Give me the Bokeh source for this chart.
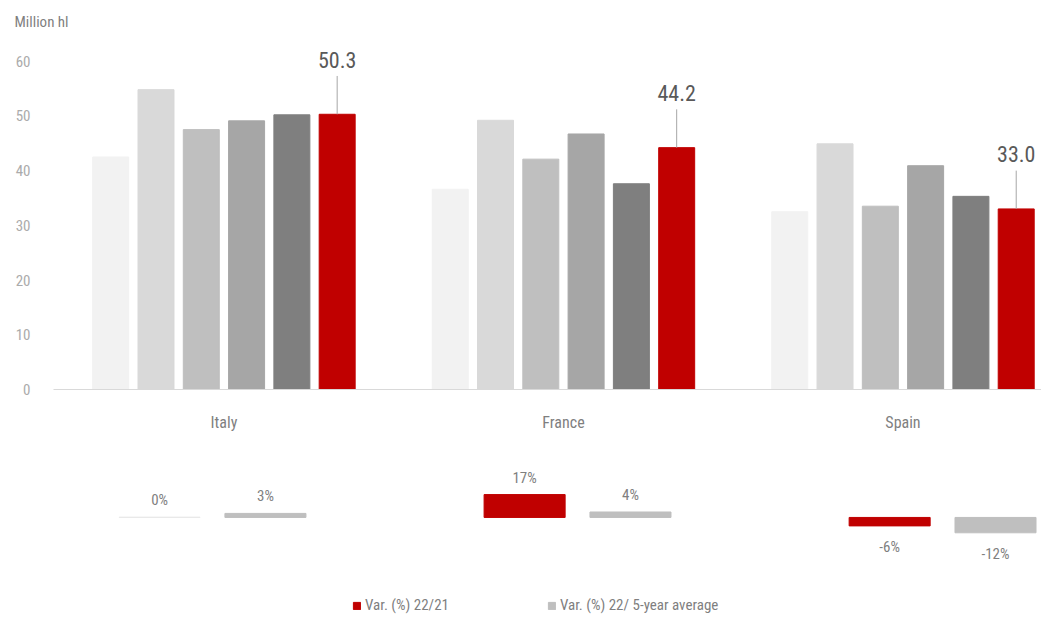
from bokeh.plotting import figure
from bokeh.layouts import column
from bokeh.models import Range1d, FixedTicker, Legend, LegendItem, ColumnDataSource
from bokeh.core.properties import value
from bokeh.embed import file_html
from bokeh.resources import INLINE

FONT = "Roboto Condensed"

# ---------------- data ----------------
countries = ["Italy", "France", "Spain"]
years = ["2017", "2018", "2019", "2020", "2021", "2022"]
italy = [42.5, 54.8, 47.5, 49.1, 50.2, 50.3]
france = [36.6, 49.2, 42.1, 46.7, 37.6, 44.2]
spain = [32.5, 44.9, 33.5, 40.9, 35.3, 33.0]
y_ticks = [0, 10, 20, 30, 40, 50, 60]

var_22_21 = [0.2, 17.6, -6.5]
var_22_5yr = [3.1, 4.2, -11.8]
var_22_21_labels = ["0%", "17%", "-6%"]
var_22_5yr_labels = ["3%", "4%", "-12%"]
legend_labels = ["Var. (%) 22/21", "Var. (%) 22/ 5-year average"]

# ---------------- styles ----------------
year_colors = ["#f2f2f2", "#d9d9d9", "#bfbfbf", "#a6a6a6", "#7f7f7f", "#c00000"]
var21_colors = ["#e9e9e9", "#c00000", "#c00000"]
var5_color = "#bfbfbf"

# ---------------- top chart ----------------
p = figure(width=1041, height=450, output_backend="svg", toolbar_location=None,
           x_range=Range1d(-0.502, 2.408), y_range=Range1d(0, 63.6),
           min_border_left=53, min_border_right=0, min_border_top=40, min_border_bottom=61)
p.outline_line_color = None
p.grid.visible = False

step = 0.1334
bw = 0.106
series = list(zip(*[italy, france, spain]))  # per year: (italy, france, spain)
for k, yr in enumerate(years):
    xs = [i + (k - 2.5) * step for i in range(len(countries))]
    src = ColumnDataSource(dict(x=xs, top=list(series[k])))
    p.vbar(x="x", top="top", width=bw, source=src, fill_color=year_colors[k],
           line_color=year_colors[k])

# labels above the 2022 bars
last = list(series[-1])
red_x = [i + 2.5 * step for i in range(len(countries))]
p.segment(x0=red_x, y0=last, x1=red_x, y1=[v + 7 for v in last], line_color="#a6a6a6", line_width=1)
p.text(x=red_x, y=[v + 10 for v in last], text=[f"{v:.1f}" for v in last],
       text_align="center", text_baseline="middle", text_font_size="22px",
       text_color="#595959", text_font=value(FONT))

p.xaxis.ticker = FixedTicker(ticks=[0, 1, 2])
p.xaxis.major_label_overrides = {i: c for i, c in enumerate(countries)}
p.xaxis.axis_line_color = "#d9d9d9"
p.xaxis.major_tick_line_color = None
p.xaxis.minor_tick_line_color = None
p.xaxis.major_label_standoff = 17
p.xaxis.major_label_text_font = FONT
p.xaxis.major_label_text_font_size = "16px"
p.xaxis.major_label_text_color = "#7f7f7f"

p.yaxis.ticker = FixedTicker(ticks=y_ticks)
p.yaxis.axis_line_color = None
p.yaxis.major_tick_line_color = None
p.yaxis.minor_tick_line_color = None
p.yaxis.major_label_standoff = 17
p.yaxis.major_label_text_font = FONT
p.yaxis.major_label_text_font_size = "15px"
p.yaxis.major_label_text_color = "#ababab"

p.title.text = "Million hl"
p.title.align = "left"
p.title.offset = -39
p.title.standoff = 21
p.title.text_font = FONT
p.title.text_font_size = "15px"
p.title.text_font_style = "normal"
p.title.text_color = "#7f7f7f"

# ---------------- bottom chart (variations) ----------------
# (its frame is aligned with the top chart's frame: 53 px .. 1041 px)
p2 = figure(width=1041, height=169, output_backend="svg", toolbar_location=None,
            x_range=Range1d(-0.4356, 2.271), y_range=Range1d(-78.5, 51.5),
            x_axis_location=None, y_axis_location=None, min_border=0)
p2.outline_line_color = None
p2.grid.visible = False

off = 0.145
bw2 = 0.222
src21 = ColumnDataSource(dict(x=[i - off for i in range(3)], top=var_22_21, c=var21_colors,
                              lab=var_22_21_labels,
                              yo=[-17 if v >= 0 else 21 for v in var_22_21]))
src5 = ColumnDataSource(dict(x=[i + off for i in range(3)], top=var_22_5yr,
                             lab=var_22_5yr_labels,
                             yo=[-17 if v >= 0 else 21 for v in var_22_5yr]))
r21 = p2.vbar(x="x", top="top", bottom=0, width=bw2, source=src21, fill_color="c", line_color="c")
r5 = p2.vbar(x="x", top="top", bottom=0, width=bw2, source=src5, fill_color=var5_color,
             line_color=var5_color)
for s in (src21, src5):
    p2.text(x="x", y="top", text="lab", y_offset="yo", source=s, text_align="center",
            text_baseline="middle", text_font_size="15px", text_color="#7f7f7f",
            text_font=value(FONT))

legend = Legend(items=[LegendItem(label=legend_labels[0], renderers=[r21], index=1),
                       LegendItem(label=legend_labels[1], renderers=[r5], index=0)],
                orientation="horizontal", location=(299, 5), border_line_color=None,
                background_fill_alpha=0, label_text_font=FONT, label_text_font_size="15px",
                label_text_color="#7f7f7f", glyph_width=9, glyph_height=9, spacing=98,
                label_standoff=4, padding=0, margin=0, label_height=16)
p2.add_layout(legend)

layout = column(p, p2)
open("out.html", "w").write(file_html(layout, INLINE))
